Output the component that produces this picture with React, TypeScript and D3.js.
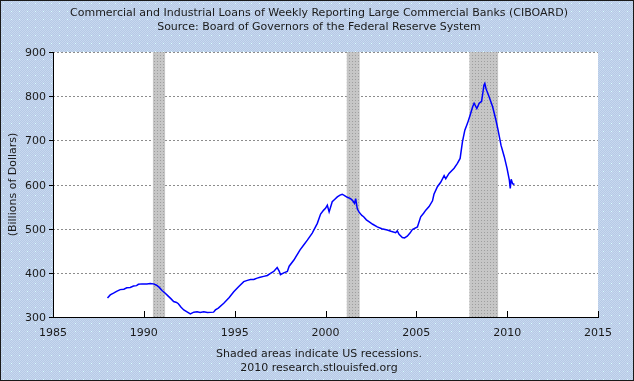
import React from "react";
import * as d3 from "d3";

const TITLE_1 = "Commercial and Industrial Loans of Weekly Reporting Large Commercial Banks (CIBOARD)";
const TITLE_2 = "Source: Board of Governors of the Federal Reserve System";
const Y_LABEL = "(Billions of Dollars)";
const FOOT_1 = "Shaded areas indicate US recessions.";
const FOOT_2 = "2010 research.stlouisfed.org";

const X_TICKS = [1985, 1990, 1995, 2000, 2005, 2010, 2015];
const Y_TICKS = [300, 400, 500, 600, 700, 800, 900];

const RECESSIONS: [number, number][] = [
  [1990.5, 1991.17],
  [2001.17, 2001.88],
  [2007.92, 2009.5],
];

const YEARS = [
  1988.0, 1988.15, 1988.33, 1988.5, 1988.7, 1988.9, 1989.06, 1989.25, 1989.43, 1989.6,
  1989.7, 1989.9, 1990.17, 1990.35, 1990.53, 1990.7, 1990.85, 1991.0, 1991.15, 1991.3,
  1991.5, 1991.64, 1991.8, 1991.9, 1992.05, 1992.2, 1992.4, 1992.56, 1992.75, 1992.93,
  1993.1, 1993.3, 1993.5, 1993.84, 1993.94, 1994.1, 1994.4, 1994.7, 1994.95, 1995.2,
  1995.5, 1995.7, 1995.87, 1996.05, 1996.24, 1996.4, 1996.6, 1996.8, 1996.97, 1997.15,
  1997.34, 1997.45, 1997.52, 1997.7, 1997.9, 1998.0, 1998.26, 1998.45, 1998.6, 1998.8,
  1999.0, 1999.27, 1999.55, 1999.73, 1999.9, 2000.0, 2000.1, 2000.2, 2000.37, 2000.5,
  2000.65, 2000.8, 2000.92, 2001.05, 2001.2, 2001.38, 2001.5, 2001.6, 2001.66, 2001.75,
  2001.84, 2002.0, 2002.1, 2002.25, 2002.39, 2002.6, 2002.85, 2003.1, 2003.4, 2003.6,
  2003.86, 2003.95, 2004.05, 2004.23, 2004.35, 2004.5, 2004.65, 2004.78, 2005.06, 2005.24,
  2005.4, 2005.52, 2005.7, 2005.89, 2005.97, 2006.16, 2006.34, 2006.53, 2006.62, 2006.8,
  2007.08, 2007.26, 2007.41, 2007.54, 2007.67, 2007.82, 2007.96, 2008.1, 2008.18, 2008.33,
  2008.46, 2008.59, 2008.67, 2008.72, 2008.77, 2008.83, 2008.88, 2009.0, 2009.2, 2009.38,
  2009.5, 2009.66, 2009.84, 2009.99, 2010.12, 2010.17, 2010.22, 2010.3, 2010.4,
];

const LOANS = [
  343, 350, 354, 358, 362, 363, 366, 367, 370, 371,
  374, 375, 375, 376, 375, 372, 367, 360, 355, 349,
  341, 335, 333, 330, 322, 316, 311, 307, 311, 312,
  310, 312, 310, 311, 316, 320, 331, 344, 357, 368,
  380, 383, 385, 385, 388, 390, 392, 394, 399, 403,
  412, 404, 396, 400, 403, 415, 429, 442, 452, 463,
  474, 490, 512, 533, 542, 546, 553, 538, 561, 566,
  572, 576, 578, 575, 571, 568, 563, 557, 568, 545,
  538, 530, 527, 520, 516, 510, 504, 500, 497, 494,
  491, 495, 487, 480, 479, 483, 490, 498, 504, 527,
  535, 542, 550, 563, 578, 595, 605, 620, 613, 625,
  637, 648, 659, 697, 723, 739, 757, 776, 784, 772,
  784, 788, 810, 825, 829, 818, 812, 799, 776, 746,
  723, 689, 663, 637, 610, 591, 612, 602, 600,
];

const W = 634;
const H = 381;
const M = { left: 53, right: 598, top: 52, bottom: 317 };
const FONT = "'DejaVu Sans', Verdana, sans-serif";

export default function App() {
  const x = d3.scaleLinear().domain([1985, 2015]).range([M.left, M.right]);
  const y = d3.scaleLinear().domain([300, 900]).range([M.bottom, M.top]);
  const pts: [number, number][] = YEARS.map((yr, i) => [yr, LOANS[i]]);
  const line = d3
    .line<[number, number]>()
    .x((d) => x(d[0]))
    .y((d) => y(d[1]))
    .curve(d3.curveLinear);
  const cx = 319;

  return (
    <div style={{ position: "fixed", left: 0, top: 0 }}>
      <svg width={W} height={H} style={{ display: "block" }}>
        <defs>
          <pattern id="chk" width={2} height={2} patternUnits="userSpaceOnUse">
            <rect width={2} height={2} fill="#b6cae6" />
            <rect x={0} y={0} width={1} height={1} fill="#c8d8ef" />
            <rect x={1} y={1} width={1} height={1} fill="#c8d8ef" />
          </pattern>
          <pattern id="dots" width={8} height={8} patternUnits="userSpaceOnUse">
            <rect x={3} y={3} width={1} height={1} fill="#dcffff" />
          </pattern>
          <pattern id="rec" width={3} height={3} patternUnits="userSpaceOnUse">
            <rect width={3} height={3} fill="#c6c6c6" />
            <rect x={1} y={1} width={1} height={1} fill="#9e9e9e" />
          </pattern>
        </defs>
        <rect x={0} y={0} width={W} height={H} fill="url(#chk)" />
        <rect x={0} y={0} width={W} height={H} fill="url(#dots)" />
        <rect x={0.5} y={0.5} width={W - 1} height={H - 1} fill="none" stroke="#1a1a1a" />

        <text x={cx} y={16} textAnchor="middle" fontFamily={FONT} fontSize={11} fill="#1a1a1a">
          {TITLE_1}
        </text>
        <text x={cx} y={30} textAnchor="middle" fontFamily={FONT} fontSize={11} fill="#1a1a1a">
          {TITLE_2}
        </text>

        <rect x={M.left} y={M.top} width={M.right - M.left} height={M.bottom - M.top} fill="#ffffff" />

        {Y_TICKS.filter((t) => t > 300).map((t) => (
          <line
            key={"g" + t}
            x1={M.left}
            x2={M.right}
            y1={Math.round(y(t)) + 0.5}
            y2={Math.round(y(t)) + 0.5}
            stroke="#8c8c8c"
            strokeDasharray="2,2"
          />
        ))}

        {RECESSIONS.map(([a, b], i) => (
          <rect
            key={"r" + i}
            x={x(a)}
            y={M.top}
            width={x(b) - x(a)}
            height={M.bottom - M.top}
            fill="url(#rec)"
          />
        ))}

        <path d={line(pts) || ""} fill="none" stroke="#0000ff" strokeWidth={1.5} />

        <line x1={M.left + 0.5} x2={M.left + 0.5} y1={M.top} y2={M.bottom + 1} stroke="#000" />
        <line x1={M.left} x2={M.right + 1} y1={M.bottom + 0.5} y2={M.bottom + 0.5} stroke="#000" />

        {Y_TICKS.map((t) => (
          <g key={"y" + t}>
            <line
              x1={M.left - 4}
              x2={M.left}
              y1={Math.round(y(t)) + 0.5}
              y2={Math.round(y(t)) + 0.5}
              stroke="#000"
            />
            <text
              x={M.left - 7}
              y={y(t) + 4}
              textAnchor="end"
              fontFamily={FONT}
              fontSize={11}
              fill="#1a1a1a"
            >
              {t}
            </text>
          </g>
        ))}

        {X_TICKS.map((t) => (
          <g key={"x" + t}>
            {t > 1985 && (
              <line
                x1={Math.round(x(t)) + 0.5}
                x2={Math.round(x(t)) + 0.5}
                y1={M.bottom - 6}
                y2={M.bottom}
                stroke="#000"
              />
            )}
            <text x={x(t)} y={336} textAnchor="middle" fontFamily={FONT} fontSize={11} fill="#1a1a1a">
              {t}
            </text>
          </g>
        ))}

        <text
          transform={`translate(16, ${(M.top + M.bottom) / 2}) rotate(-90)`}
          textAnchor="middle"
          fontFamily={FONT}
          fontSize={11}
          fill="#1a1a1a"
        >
          {Y_LABEL}
        </text>

        <text x={cx} y={357} textAnchor="middle" fontFamily={FONT} fontSize={11} fill="#1a1a1a">
          {FOOT_1}
        </text>
        <text x={cx} y={371} textAnchor="middle" fontFamily={FONT} fontSize={11} fill="#1a1a1a">
          {FOOT_2}
        </text>
      </svg>
    </div>
  );
}
